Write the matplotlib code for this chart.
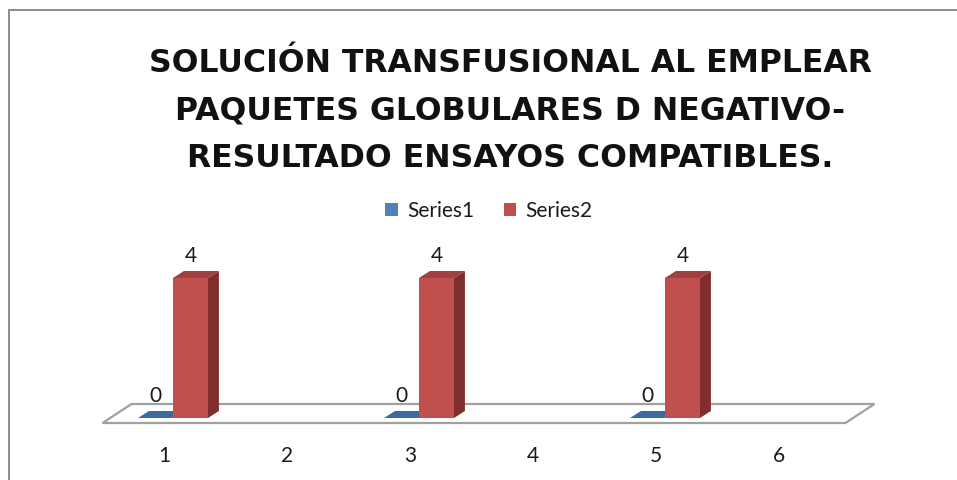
import matplotlib
matplotlib.use('Agg')
import matplotlib.pyplot as plt
from matplotlib.patches import Polygon, Rectangle, Patch

plt.rcParams['font.family'] = ['Lato', 'DejaVu Sans']

# ── data ──────────────────────────────────────────────────────────────────────
categories = ['1', '2', '3', '4', '5', '6']
series1 = [0, None, 0, None, 0, None]
series2 = [4, None, 4, None, 4, None]
series_names = ['Series1', 'Series2']

title_lines = ['SOLUCIÓN TRANSFUSIONAL AL EMPLEAR',
               'PAQUETES GLOBULARES D NEGATIVO-',
               'RESULTADO ENSAYOS COMPATIBLES.']

# ── style ─────────────────────────────────────────────────────────────────────
C_FRONT = ['#4F81BD', '#C0504D']
C_TOP   = ['#3D6AA0', '#A03F3D']
C_SIDE  = ['#2F5380', '#7E2F2D']
FLOOR   = '#A0A0A0'

BAR_W   = 0.285            # bar width (category units)
OFFS    = [-0.069, 0.215]  # bar centre offset per series
DX, DY  = 0.089, 0.20      # bar depth
FDX, FDY = 0.236, 0.543    # floor depth
FLOOR_Y = -0.143

fig = plt.figure(figsize=(9.57, 4.80), dpi=100, facecolor='white')
ax = fig.add_axes([0, 0, 1, 1])
ax.set_xlim(-0.3333, 7.4472)
ax.set_ylim(-1.7714, 11.9429)
ax.axis('off')

# chart frame (cropped at right / bottom)
fig.patches.append(Rectangle((8.5 / 957, -0.1), 1.2, 1 - 10 / 480 + 0.1,
                             transform=fig.transFigure, fill=False,
                             edgecolor='#8C8C8C', linewidth=1.4))

# floor
n = len(categories)
x0, x1 = 0.5, n + 0.54
ax.add_patch(Polygon([(x0, FLOOR_Y), (x1, FLOOR_Y),
                      (x1 + FDX, FLOOR_Y + FDY), (x0 + FDX, FLOOR_Y + FDY)],
                     closed=True, facecolor='white', edgecolor=FLOOR,
                     linewidth=1.6, zorder=1))

for i, cat in enumerate(categories):
    xc = i + 1
    for s, vals in enumerate([series1, series2]):
        h = vals[i]
        if h is None:
            continue
        xl = xc + OFFS[s] - BAR_W / 2
        xr = xl + BAR_W
        # side
        ax.add_patch(Polygon([(xr, 0), (xr, h), (xr + DX, h + DY), (xr + DX, DY)],
                             closed=True, facecolor=C_SIDE[s], edgecolor='none',
                             zorder=3 + s))
        # top
        ax.add_patch(Polygon([(xl, h), (xr, h), (xr + DX, h + DY), (xl + DX, h + DY)],
                             closed=True, facecolor=C_TOP[s], edgecolor='none',
                             zorder=3 + s))
        # front
        if h > 0:
            ax.bar(xl, h, width=BAR_W, align='edge', color=C_FRONT[s],
                   edgecolor='none', zorder=3 + s)
        ax.text(xc + OFFS[s], h + 0.46, f'{h:g}', ha='center', va='baseline',
                fontsize=15, color='#1a1a1a', zorder=6)
    ax.text(xc, -1.25, cat, ha='center', va='baseline', fontsize=15,
            color='#1a1a1a')

# title
for k, line in enumerate(title_lines):
    fig.text(0.533, [0.8506, 0.7515, 0.6527][k], line, ha='center',
             va='baseline', fontsize=22.7, fontweight='bold', color='#111111',
             family=['DejaVu Sans'])

# legend
handles = [Patch(facecolor=C_FRONT[0]), Patch(facecolor=C_FRONT[1])]
fig.legend(handles, series_names, loc='center', bbox_to_anchor=(0.511, 0.56),
           ncol=2, frameon=False, fontsize=15, handlelength=0.6,
           handleheight=0.6, handletextpad=0.45, columnspacing=1.4,
           labelcolor='#1a1a1a')

fig.savefig('out.png', dpi=100, facecolor='white')
